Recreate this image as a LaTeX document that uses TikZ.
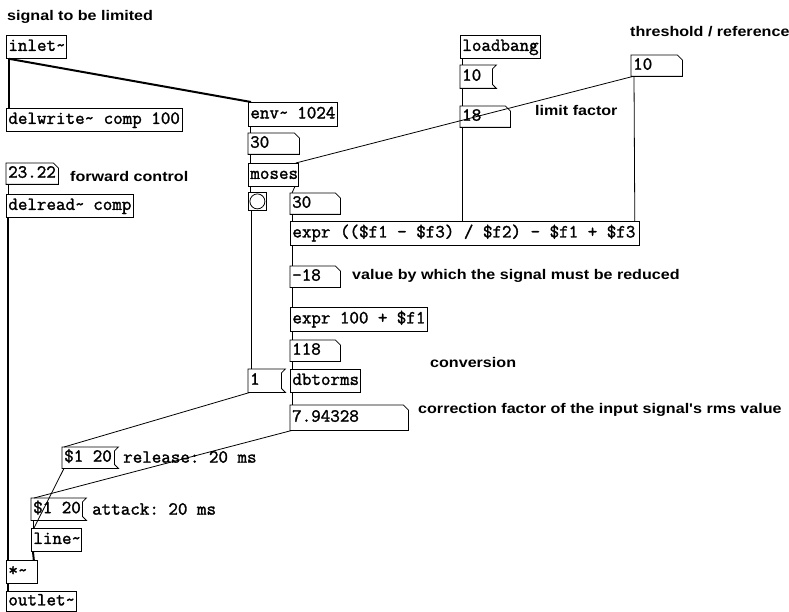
\documentclass[tikz,border=0pt]{standalone}
\usepackage{fontspec}
\usetikzlibrary{calc}
\newfontfamily\pdfont[FakeBold=1.6]{Latin Modern Mono}
\newfontfamily\notefont[FakeStretch=1.15]{Liberation Sans}

\tikzset{
  pdbox/.style={anchor=north west, inner xsep=2pt, inner ysep=0pt,
    minimum height=23pt, text height=10pt, text depth=2pt,
    font=\pdfont\fontsize{18.5pt}{18.5pt}\selectfont},
  pdfill/.style={execute at begin node={\hbox to #1\bgroup},
    execute at end node={\hfil\egroup}},
  pdobj/.style={pdbox, draw, line width=0.8pt, pdfill=#1},
  pdnum/.style={pdbox, pdfill=#1, minimum height=21pt,
    append after command={\pgfextra{\draw[line width=0.8pt]
      (\tikzlastnode.north west) -- ([xshift=-5pt]\tikzlastnode.north east)
      -- ([yshift=-5pt]\tikzlastnode.north east) -- (\tikzlastnode.south east)
      -- (\tikzlastnode.south west) -- cycle;}}},
  pdmsg/.style={pdbox, pdfill=#1, minimum height=22pt,
    append after command={\pgfextra{\draw[line width=0.8pt]
      (\tikzlastnode.north west) -- (\tikzlastnode.north east)
      -- ([shift={(-4pt,-4pt)}]\tikzlastnode.north east)
      -- ([shift={(-4pt,4pt)}]\tikzlastnode.south east)
      -- (\tikzlastnode.south east) -- (\tikzlastnode.south west) -- cycle;}}},
  note/.style={anchor=west, inner sep=0pt,
    font=\notefont\bfseries\fontsize{14pt}{14pt}\selectfont},
  monote/.style={anchor=west, inner sep=0pt,
    font=\pdfont\fontsize{18.5pt}{18.5pt}\selectfont},
  sig/.style={line width=2pt},
  ctl/.style={line width=0.8pt}
}

\begin{document}
\begin{tikzpicture}[x=1pt,y=-1pt]

    \fill[white] (0,0) rectangle (789,612);
    \useasboundingbox (0,0) rectangle (789,612);

    % 1. Input and delay line
    \node[note] (c1) at (7,17) {signal to be limited};
    \node[pdobj=56pt] (inlet) at (6,35) {inlet\textasciitilde};
    \node[pdobj=172pt] (delw) at (6,108) {delwrite\textasciitilde{} comp 100};
    \node[pdnum=48pt] (fwd) at (6,163) {23.22};
    \node[note] (c2) at (70,176) {forward control};
    \node[pdobj=123pt] (delr) at (6,194) {delread\textasciitilde{} comp};

    % 2. Level detection
    \node[pdobj=85pt, minimum height=24pt] (env) at (248,102) {env\textasciitilde{} 1024};
    \node[pdnum=47pt] (lvl) at (248,133) {30};
    \node[pdobj=46pt] (moses) at (248,163) {moses};
    \node[draw, line width=0.8pt, anchor=north west, minimum width=18pt,
          minimum height=18pt, inner sep=0pt] (bng) at (248,192) {};
    \draw[line width=0.8pt] (bng.center) circle (7.5pt);
    \node[pdnum=46pt] (over) at (290,193) {30};

    % 3. Threshold and limit factor
    \node[note] (c3) at (630,32) {threshold / reference};
    \node[pdnum=47pt] (thr) at (631,55) {10};
    \node[pdobj=76pt] (lb) at (460,35) {loadbang};
    \node[pdmsg=32pt, minimum height=23pt] (m10) at (460,65) {10};
    \node[pdnum=46pt] (fac) at (460,106) {18};
    \node[note] (c4) at (535,110) {limit factor};

    % 4. Reduction chain
    \node[pdobj=345pt, minimum height=24pt] (expr1) at (290,221)
        {expr ((\$f1 - \$f3) / \$f2) - \$f1 + \$f3};
    \node[pdnum=46pt] (red) at (290,266) {-18};
    \node[note] (c5) at (352,276) {value by which the signal must be reduced};
    \node[pdobj=133pt, minimum height=24pt] (expr2) at (290,307) {expr 100 + \$f1};
    \node[pdnum=46pt] (db) at (290,340) {118};
    \node[note] (c6) at (430,362) {conversion};
    \node[pdobj=66pt] (dbt) at (290,369) {dbtorms};
    \node[pdmsg=33pt, minimum height=23pt] (m1) at (248,369) {1};
    \node[pdnum=114pt, minimum height=25pt] (rms) at (290,405) {7.94328};
    \node[note] (c7) at (418,410) {correction factor of the input signal's rms value};

    % 5. Ramps and output
    \node[pdmsg=52pt, minimum height=21pt] (rel) at (62,447) {\$1 20};
    \node[monote] (c8) at (123,457) {\frenchspacing release: 20 ms};
    \node[pdmsg=51pt] (att) at (31,498) {\$1 20};
    \node[monote] (c9) at (92,509) {\frenchspacing attack: 20 ms};
    \node[pdobj=46pt] (line) at (31,528) {line\textasciitilde};
    \node[pdobj=27pt] (mul) at (6,560) {*\textasciitilde};
    \node[pdobj=66pt, minimum height=20pt] (out) at (6,591) {outlet\textasciitilde};

    % 6. Signal connections
    \draw[sig] ([xshift=3pt]inlet.south west) -- ([xshift=3pt]delw.north west);
    \draw[sig] ([xshift=3pt]inlet.south west) -- ([xshift=3pt]env.north west);
    \draw[sig] ([xshift=2pt]delr.south west) -- ([xshift=2pt]mul.north west);
    \draw[sig] ([xshift=2pt]line.south west) -- ([xshift=-4pt]mul.north east);
    \draw[sig] ([xshift=2pt]mul.south west) -- ([xshift=2pt]out.north west);

    % 7. Control connections
    \draw[ctl] ([xshift=2pt]fwd.south west) -- ([xshift=2pt]delr.north west);
    \draw[ctl] ([xshift=2pt]env.south west) -- ([xshift=2pt]lvl.north west);
    \draw[ctl] ([xshift=2pt]lvl.south west) -- ([xshift=2pt]moses.north west);
    \draw[ctl] ([xshift=2pt]thr.south west) -- ([xshift=-3pt]moses.north east);
    \draw[ctl] ([xshift=3pt]thr.south west) -- ([xshift=-5pt]expr1.north east);
    \draw[ctl] ([xshift=2pt]lb.south west) -- ([xshift=2pt]m10.north west);
    \draw[ctl] ([xshift=2pt]m10.south west) -- ([xshift=2pt]fac.north west);
    \draw[ctl] ([xshift=2pt]fac.south west) coordinate (t) -- (t |- expr1.north);
    \draw[ctl] ([xshift=2pt]moses.south west) -- ([xshift=2pt]bng.north west);
    \draw[ctl] ([xshift=-4pt]moses.south east) -- ([xshift=2pt]over.north west);
    \draw[ctl] ([xshift=2pt]over.south west) -- ([xshift=2pt]expr1.north west);
    \draw[ctl] ([xshift=2pt]expr1.south west) -- ([xshift=2pt]red.north west);
    \draw[ctl] ([xshift=2pt]red.south west) -- ([xshift=2pt]expr2.north west);
    \draw[ctl] ([xshift=2pt]expr2.south west) -- ([xshift=2pt]db.north west);
    \draw[ctl] ([xshift=2pt]db.south west) -- ([xshift=2pt]dbt.north west);
    \draw[ctl] ([xshift=2pt]dbt.south west) -- ([xshift=2pt]rms.north west);
    \draw[ctl] ([xshift=3pt]bng.south west) -- ([xshift=3pt]m1.north west);
    \draw[ctl] ([xshift=2pt]m1.south west) -- ([xshift=2pt]rel.north west);
    \draw[ctl] ([xshift=2pt]rms.south west) -- ([xshift=3pt]att.north west);
    \draw[ctl] ([xshift=2pt]rel.south west) -- ([xshift=3pt]line.north west);
    \draw[ctl] ([xshift=2pt]att.south west) -- ([xshift=2pt]line.north west);

\end{tikzpicture}
\end{document}
